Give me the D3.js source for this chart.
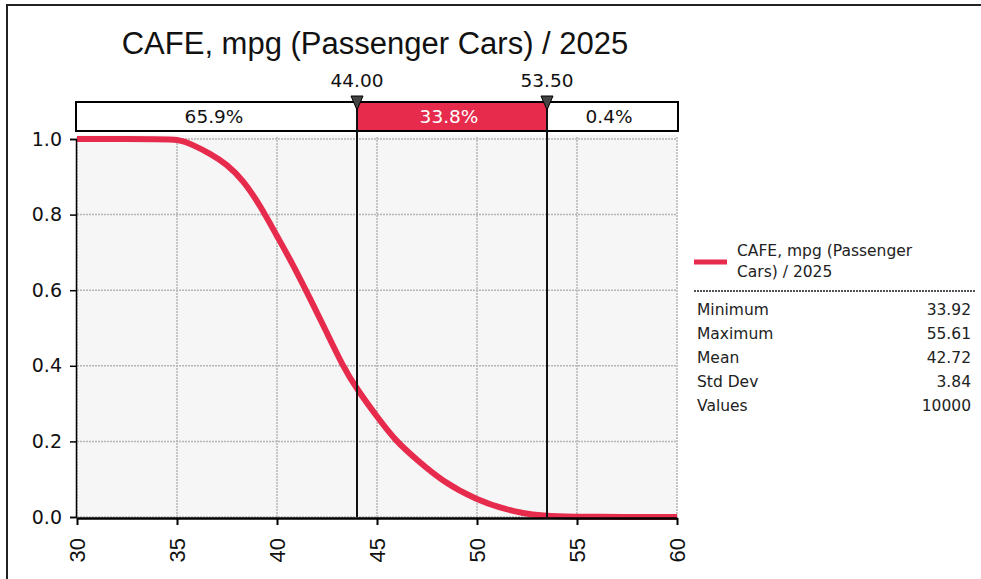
<!DOCTYPE html>
<html>
<head>
<meta charset="utf-8">
<script src="https://cdn.jsdelivr.net/npm/d3@7"></script>
<style>
html,body{margin:0;padding:0;background:#fff;}
svg{display:block;}
</style>
</head>
<body>
<script>
// ---- data ----
const chartTitle = "CAFE, mpg (Passenger Cars) / 2025";
const xTicks = [30, 35, 40, 45, 50, 55, 60];
const yTicks = [0, 0.2, 0.4, 0.6, 0.8, 1.0];
const curveX = [30, 34.6, 35.0, 35.4, 35.8, 36.65, 37.5, 38.3, 39.15, 39.98, 40.8, 41.65, 42.4, 43.3, 44.0, 45.0, 45.95, 47.0, 48.3, 50.0, 51.5, 52.8, 54.0, 55.6, 60];
const curveY = [1.0, 1.0, 0.998, 0.993, 0.984, 0.962, 0.933, 0.891, 0.825, 0.745, 0.668, 0.578, 0.498, 0.398, 0.338, 0.265, 0.200, 0.151, 0.093, 0.045, 0.0185, 0.005, 0.002, 0.0, 0.0];
const markerValues = [44.00, 53.50];
const markerLabels = ["44.00", "53.50"];
const bandLabels = ["65.9%", "33.8%", "0.4%"];
const legendLines = ["CAFE, mpg (Passenger", "Cars) / 2025"];
const statNames = ["Minimum", "Maximum", "Mean", "Std Dev", "Values"];
const statValues = ["33.92", "55.61", "42.72", "3.84", "10000"];

// ---- layout ----
const W = 981, H = 579;
const RED = "#e62b4c";
const FONT = "'DejaVu Sans', Verdana, sans-serif";
const plot = {left: 77, right: 677, top: 139, bottom: 517};

const svg = d3.select("body").append("svg").attr("width", W).attr("height", H);

// frame
svg.append("path").attr("d", `M7,${H} L7,5 L${W},5`).attr("fill", "none")
  .attr("stroke", "#222").attr("stroke-width", 2);

const x = d3.scaleLinear().domain([30, 60]).range([plot.left, plot.right]);
const y = d3.scaleLinear().domain([0, 1]).range([plot.bottom, plot.top]);

// title
svg.append("text").attr("x", (plot.left + plot.right) / 2 - 2).attr("y", 54)
  .attr("text-anchor", "middle").attr("font-family", "'Liberation Sans', Arial, sans-serif")
  .attr("font-size", 31).attr("fill", "#111").text(chartTitle);

// plot background
svg.append("rect").attr("x", plot.left).attr("y", plot.top - 4)
  .attr("width", plot.right - plot.left).attr("height", plot.bottom - plot.top + 5)
  .attr("fill", "#f6f6f6");

// grid
const grid = svg.append("g").attr("stroke", "#b5b5b5").attr("stroke-width", 1.5)
  .attr("stroke-dasharray", "2,1");
grid.selectAll("line.v").data(xTicks).join("line").attr("class", "v")
  .attr("x1", d => x(d)).attr("x2", d => x(d))
  .attr("y1", plot.top - 2).attr("y2", plot.bottom);
grid.selectAll("line.h").data(yTicks).join("line").attr("class", "h")
  .attr("x1", plot.left).attr("x2", plot.right)
  .attr("y1", d => y(d)).attr("y2", d => y(d));

// curve
const pts = curveX.map((v, i) => [v, curveY[i]]);
svg.append("path").datum(pts)
  .attr("d", d3.line().x(d => x(d[0])).y(d => y(d[1])).curve(d3.curveBasis))
  .attr("fill", "none").attr("stroke", RED).attr("stroke-width", 6)
  .attr("stroke-linejoin", "round");

// axes
const yAxis = svg.append("g").attr("transform", `translate(${plot.left - 1},0)`)
  .call(d3.axisLeft(y).tickValues(yTicks).tickFormat(d3.format(".1f")).tickSize(6).tickPadding(8));
yAxis.select(".domain").attr("stroke", "#000").attr("stroke-width", 1.5);
yAxis.selectAll(".tick line").attr("stroke", "#000").attr("stroke-width", 1.5);
yAxis.selectAll(".tick text").attr("font-family", FONT).attr("font-size", 19).attr("fill", "#111");

const xAxis = svg.append("g").attr("transform", `translate(0,${plot.bottom + 1})`)
  .call(d3.axisBottom(x).tickValues(xTicks).tickFormat(d3.format("d")).tickSize(7).tickSizeOuter(0));
xAxis.select(".domain").attr("stroke", "#000").attr("stroke-width", 2.5);
xAxis.selectAll(".tick line").attr("stroke", "#000").attr("stroke-width", 2);
xAxis.selectAll(".tick text")
  .attr("font-family", "'Liberation Sans', Arial, sans-serif").attr("font-size", 22).attr("fill", "#111")
  .attr("transform", "rotate(-90)").attr("text-anchor", "end")
  .attr("x", -20).attr("y", 0).attr("dy", "0.36em");

// band box
const bandTop = 102, bandBot = 131;
const edges = [30].concat(markerValues, [60]);
const band = svg.append("g");
band.selectAll("rect.seg").data(bandLabels).join("rect").attr("class", "seg")
  .attr("x", (d, i) => x(edges[i])).attr("y", bandTop)
  .attr("width", (d, i) => x(edges[i + 1]) - x(edges[i])).attr("height", bandBot - bandTop)
  .attr("fill", (d, i) => i === 1 ? RED : "#fff");
band.append("rect").attr("x", plot.left - 1).attr("y", bandTop).attr("width", plot.right - plot.left + 2)
  .attr("height", bandBot - bandTop).attr("fill", "none").attr("stroke", "#000").attr("stroke-width", 2);
band.selectAll("text").data(bandLabels).join("text")
  .attr("x", (d, i) => (x(edges[i]) + x(edges[i + 1])) / 2 - 3).attr("y", 123)
  .attr("text-anchor", "middle").attr("font-family", FONT).attr("font-size", 18.5)
  .attr("fill", (d, i) => i === 1 ? "#fff" : "#111").text(d => d);

// marker lines, triangles, labels
const mk = svg.append("g");
mk.selectAll("line").data(markerValues).join("line")
  .attr("x1", d => x(d)).attr("x2", d => x(d)).attr("y1", bandTop).attr("y2", plot.bottom)
  .attr("stroke", "#111").attr("stroke-width", 2);
mk.selectAll("path").data(markerValues).join("path")
  .attr("d", d => `M${x(d) - 6},96 L${x(d) + 6},96 L${x(d)},110 Z`)
  .attr("fill", "#444").attr("stroke", "#000").attr("stroke-width", 1);
mk.selectAll("text").data(markerLabels).join("text")
  .attr("x", (d, i) => x(markerValues[i])).attr("y", 87)
  .attr("text-anchor", "middle").attr("font-family", FONT).attr("font-size", 18.5)
  .attr("fill", "#111").text(d => d);

// legend
const lg = svg.append("g");
lg.append("line").attr("x1", 694).attr("x2", 727).attr("y1", 262).attr("y2", 262)
  .attr("stroke", RED).attr("stroke-width", 5);
lg.selectAll("text.lt").data(legendLines).join("text").attr("class", "lt")
  .attr("x", 737).attr("y", (d, i) => 256 + i * 21)
  .attr("font-family", FONT).attr("font-size", 15.5).attr("fill", "#222").text(d => d);
lg.append("line").attr("x1", 694).attr("x2", 975).attr("y1", 291).attr("y2", 291)
  .attr("stroke", "#555").attr("stroke-width", 2).attr("stroke-dasharray", "2,1");
lg.selectAll("text.sn").data(statNames).join("text").attr("class", "sn")
  .attr("x", 697).attr("y", (d, i) => 315 + i * 24)
  .attr("font-family", FONT).attr("font-size", 15.5).attr("fill", "#222").text(d => d);
lg.selectAll("text.sv").data(statValues).join("text").attr("class", "sv")
  .attr("x", 971).attr("y", (d, i) => 315 + i * 24).attr("text-anchor", "end")
  .attr("font-family", FONT).attr("font-size", 15.5).attr("fill", "#222").text(d => d);
</script>
</body>
</html>
